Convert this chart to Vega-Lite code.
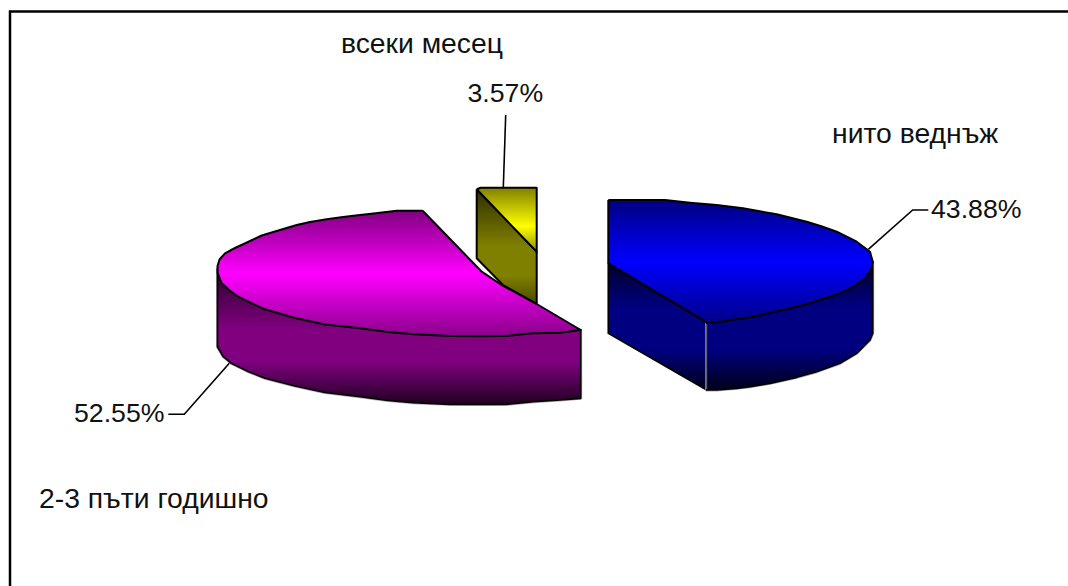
{
  "$schema": "https://vega.github.io/schema/vega-lite/v6.json",
  "width": 1068,
  "height": 586,
  "autosize": {"type": "fit", "contains": "padding"},
  "padding": 0,
  "background": "white",
  "view": {"stroke": null},
  "datasets": {
    "faces": [
      {"face":"frame","i":0,"x":10,"y":586},{"face":"frame","i":1,"x":10,"y":11.5},{"face":"frame","i":2,"x":1068,"y":11.5},

      {"face":"yellowSide","i":0,"x":476.7,"y":189.3},{"face":"yellowSide","i":1,"x":536.7,"y":251.7},{"face":"yellowSide","i":2,"x":536.7,"y":304},{"face":"yellowSide","i":3,"x":503,"y":285},{"face":"yellowSide","i":4,"x":476.7,"y":258.3},{"face":"yellowSide","i":5,"x":476.7,"y":189.3},

      {"face":"yellowTop","i":0,"x":476.7,"y":189.3},{"face":"yellowTop","i":1,"x":480.7,"y":187.7},{"face":"yellowTop","i":2,"x":536.7,"y":187.7},{"face":"yellowTop","i":3,"x":536.7,"y":251.7},{"face":"yellowTop","i":4,"x":476.7,"y":189.3},

      {"face":"magentaSide","i":0,"x":217.5,"y":268.3},{"face":"magentaSide","i":1,"x":217.5,"y":346.7},{"face":"magentaSide","i":2,"x":223.3,"y":356.7},{"face":"magentaSide","i":3,"x":231.7,"y":363.5},{"face":"magentaSide","i":4,"x":248,"y":371.5},{"face":"magentaSide","i":5,"x":265,"y":378.3},{"face":"magentaSide","i":6,"x":295,"y":386},{"face":"magentaSide","i":7,"x":325,"y":392.5},{"face":"magentaSide","i":8,"x":360,"y":396.7},{"face":"magentaSide","i":9,"x":388,"y":400.5},{"face":"magentaSide","i":10,"x":413.3,"y":402.7},{"face":"magentaSide","i":11,"x":450,"y":404.3},{"face":"magentaSide","i":12,"x":480,"y":404.5},{"face":"magentaSide","i":13,"x":506.7,"y":404.3},{"face":"magentaSide","i":14,"x":533.3,"y":401.7},{"face":"magentaSide","i":15,"x":560,"y":400},{"face":"magentaSide","i":16,"x":580.7,"y":398.3},{"face":"magentaSide","i":17,"x":580.7,"y":330},{"face":"magentaSide","i":18,"x":450,"y":336},{"face":"magentaSide","i":19,"x":265,"y":309.3},{"face":"magentaSide","i":20,"x":217.5,"y":268.3},

      {"face":"magentaTop","i":0,"x":422.7,"y":210.7},{"face":"magentaTop","i":1,"x":396.7,"y":210.7},{"face":"magentaTop","i":2,"x":378,"y":213},{"face":"magentaTop","i":3,"x":360,"y":215},{"face":"magentaTop","i":4,"x":343,"y":217},{"face":"magentaTop","i":5,"x":326.7,"y":219.3},{"face":"magentaTop","i":6,"x":310,"y":222},{"face":"magentaTop","i":7,"x":296.7,"y":225},{"face":"magentaTop","i":8,"x":280,"y":230},{"face":"magentaTop","i":9,"x":261.7,"y":235.5},{"face":"magentaTop","i":10,"x":248,"y":242},{"face":"magentaTop","i":11,"x":235,"y":248},{"face":"magentaTop","i":12,"x":225,"y":253.3},{"face":"magentaTop","i":13,"x":219.5,"y":259.5},{"face":"magentaTop","i":14,"x":217.5,"y":266},{"face":"magentaTop","i":15,"x":217.7,"y":273.3},{"face":"magentaTop","i":16,"x":221.7,"y":283.3},{"face":"magentaTop","i":17,"x":229,"y":290},{"face":"magentaTop","i":18,"x":238.3,"y":296.7},{"face":"magentaTop","i":19,"x":251,"y":303},{"face":"magentaTop","i":20,"x":265,"y":309.3},{"face":"magentaTop","i":21,"x":295,"y":318},{"face":"magentaTop","i":22,"x":325,"y":324.5},{"face":"magentaTop","i":23,"x":360,"y":328.3},{"face":"magentaTop","i":24,"x":388,"y":332},{"face":"magentaTop","i":25,"x":413.3,"y":334.3},{"face":"magentaTop","i":26,"x":450,"y":336},{"face":"magentaTop","i":27,"x":480,"y":336.2},{"face":"magentaTop","i":28,"x":506.7,"y":336},{"face":"magentaTop","i":29,"x":533.3,"y":333.3},{"face":"magentaTop","i":30,"x":560,"y":332.7},{"face":"magentaTop","i":31,"x":580.7,"y":330},{"face":"magentaTop","i":32,"x":536.7,"y":304},{"face":"magentaTop","i":33,"x":501.7,"y":285},{"face":"magentaTop","i":34,"x":481.7,"y":271.7},{"face":"magentaTop","i":35,"x":422.7,"y":210.7},

      {"face":"blueWall","i":0,"x":608.3,"y":263.3},{"face":"blueWall","i":1,"x":706.7,"y":322.3},{"face":"blueWall","i":2,"x":706.7,"y":390},{"face":"blueWall","i":3,"x":608.3,"y":333.3},{"face":"blueWall","i":4,"x":608.3,"y":263.3},

      {"face":"blueRim","i":0,"x":706.7,"y":322.3},{"face":"blueRim","i":1,"x":770,"y":313},{"face":"blueRim","i":2,"x":830,"y":296.7},{"face":"blueRim","i":3,"x":872.7,"y":261.7},{"face":"blueRim","i":4,"x":872.7,"y":333.3},{"face":"blueRim","i":5,"x":870,"y":340},{"face":"blueRim","i":6,"x":856.7,"y":353.3},{"face":"blueRim","i":7,"x":840,"y":363.3},{"face":"blueRim","i":8,"x":816.7,"y":371.7},{"face":"blueRim","i":9,"x":796.7,"y":377.3},{"face":"blueRim","i":10,"x":770,"y":383.3},{"face":"blueRim","i":11,"x":750,"y":386.7},{"face":"blueRim","i":12,"x":736.7,"y":388.3},{"face":"blueRim","i":13,"x":716.7,"y":390},{"face":"blueRim","i":14,"x":706.7,"y":390},{"face":"blueRim","i":15,"x":706.7,"y":322.3},

      {"face":"blueEdge","i":0,"x":706.7,"y":324},{"face":"blueEdge","i":1,"x":706.7,"y":389},

      {"face":"blueTop","i":0,"x":608.3,"y":200},{"face":"blueTop","i":1,"x":665,"y":200},{"face":"blueTop","i":2,"x":690,"y":202.7},{"face":"blueTop","i":3,"x":716.7,"y":205},{"face":"blueTop","i":4,"x":743,"y":208.3},{"face":"blueTop","i":5,"x":776.7,"y":214.3},{"face":"blueTop","i":6,"x":806.7,"y":221.7},{"face":"blueTop","i":7,"x":822,"y":226.5},{"face":"blueTop","i":8,"x":836.7,"y":231.7},{"face":"blueTop","i":9,"x":856.7,"y":241.7},{"face":"blueTop","i":10,"x":870,"y":251.7},{"face":"blueTop","i":11,"x":872.7,"y":261.7},{"face":"blueTop","i":12,"x":871.5,"y":268.3},{"face":"blueTop","i":13,"x":865,"y":278.3},{"face":"blueTop","i":14,"x":853.3,"y":286.7},{"face":"blueTop","i":15,"x":840,"y":293.3},{"face":"blueTop","i":16,"x":820,"y":300},{"face":"blueTop","i":17,"x":803.3,"y":305},{"face":"blueTop","i":18,"x":786.7,"y":309.3},{"face":"blueTop","i":19,"x":770,"y":313},{"face":"blueTop","i":20,"x":753.3,"y":316.7},{"face":"blueTop","i":21,"x":736.7,"y":319.3},{"face":"blueTop","i":22,"x":716.7,"y":322.3},{"face":"blueTop","i":23,"x":706.7,"y":322.3},{"face":"blueTop","i":24,"x":608.3,"y":263.3},{"face":"blueTop","i":25,"x":608.3,"y":200},

      {"face":"leader4388","i":0,"x":868.3,"y":249.3},{"face":"leader4388","i":1,"x":912.7,"y":210},{"face":"leader4388","i":2,"x":928.3,"y":210},
      {"face":"leader5255","i":0,"x":229.3,"y":363.3},{"face":"leader5255","i":1,"x":184.3,"y":414.3},{"face":"leader5255","i":2,"x":168.3,"y":414.3},
      {"face":"leader357","i":0,"x":505.7,"y":115},{"face":"leader357","i":1,"x":503.3,"y":187.7}
    ],
    "labels": [
      {"label":"всеки месец","kind":"name","x":341,"y":53.3},
      {"label":"3.57%","kind":"share","x":467.5,"y":102},
      {"label":"нито веднъж","kind":"name","x":832,"y":143.3},
      {"label":"43.88%","kind":"share","x":931,"y":218.3},
      {"label":"52.55%","kind":"share","x":74,"y":421.7},
      {"label":"2-3 пъти годишно","kind":"name","x":39,"y":508}
    ]
  },
  "encoding": {
    "x": {"field":"x","type":"quantitative","scale":{"domain":[0,1068],"nice":false,"zero":false},"axis":null},
    "y": {"field":"y","type":"quantitative","scale":{"domain":[586,0],"nice":false,"zero":false},"axis":null}
  },
  "layer": [
    {"data":{"name":"faces"},"transform":[{"filter":"datum.face==='frame'"}],
     "mark":{"type":"line","stroke":"black","strokeWidth":2.5,"strokeCap":"square","clip":true},
     "encoding":{"order":{"field":"i","type":"quantitative"}}},

    {"data":{"name":"faces"},"transform":[{"filter":"datum.face==='yellowSide'"}],
     "mark":{"type":"line","stroke":"black","strokeWidth":2,"strokeJoin":"round",
       "fill":{"gradient":"linear","x1":0,"y1":0,"x2":0,"y2":1,"stops":[{"offset":0,"color":"#2e2e00"},{"offset":0.5,"color":"#808000"},{"offset":0.75,"color":"#808000"},{"offset":1,"color":"#4a4a00"}]}},
     "encoding":{"order":{"field":"i","type":"quantitative"}}},
    {"data":{"name":"faces"},"transform":[{"filter":"datum.face==='yellowTop'"}],
     "mark":{"type":"line","stroke":"black","strokeWidth":2,"strokeJoin":"round",
       "fill":{"gradient":"linear","x1":0,"y1":0,"x2":0,"y2":1,"stops":[{"offset":0,"color":"#808000"},{"offset":0.6,"color":"#ffff00"},{"offset":1,"color":"#909000"}]}},
     "encoding":{"order":{"field":"i","type":"quantitative"}}},

    {"data":{"name":"faces"},"transform":[{"filter":"datum.face==='magentaSide'"}],
     "mark":{"type":"line","stroke":"#b4a8b4","strokeWidth":3,"strokeJoin":"round"},
     "encoding":{"order":{"field":"i","type":"quantitative"}}},
    {"data":{"name":"faces"},"transform":[{"filter":"datum.face==='magentaSide'"}],
     "mark":{"type":"line","stroke":"black","strokeWidth":1.7,"strokeJoin":"round",
       "fill":{"gradient":"linear","x1":0,"y1":0,"x2":0,"y2":1,"stops":[{"offset":0,"color":"#2a002a"},{"offset":0.45,"color":"#800080"},{"offset":0.68,"color":"#800080"},{"offset":1,"color":"#200020"}]}},
     "encoding":{"order":{"field":"i","type":"quantitative"}}},
    {"data":{"name":"faces"},"transform":[{"filter":"datum.face==='magentaTop'"}],
     "mark":{"type":"line","stroke":"black","strokeWidth":2,"strokeJoin":"round",
       "fill":{"gradient":"linear","x1":0,"y1":0,"x2":0,"y2":1,"stops":[{"offset":0,"color":"#800080"},{"offset":0.5,"color":"#ff00ff"},{"offset":1,"color":"#8a008a"}]}},
     "encoding":{"order":{"field":"i","type":"quantitative"}}},

    {"data":{"name":"faces"},"transform":[{"filter":"datum.face==='blueWall'"}],
     "mark":{"type":"line","stroke":"black","strokeWidth":1.7,"strokeJoin":"round",
       "fill":{"gradient":"linear","x1":0,"y1":0,"x2":0,"y2":1,"stops":[{"offset":0,"color":"#00002a"},{"offset":0.35,"color":"#000080"},{"offset":0.68,"color":"#000080"},{"offset":1,"color":"#00001a"}]}},
     "encoding":{"order":{"field":"i","type":"quantitative"}}},
    {"data":{"name":"faces"},"transform":[{"filter":"datum.face==='blueRim'"}],
     "mark":{"type":"line","stroke":"#a8a8b8","strokeWidth":3,"strokeJoin":"round"},
     "encoding":{"order":{"field":"i","type":"quantitative"}}},
    {"data":{"name":"faces"},"transform":[{"filter":"datum.face==='blueRim'"}],
     "mark":{"type":"line","stroke":"black","strokeWidth":1.7,"strokeJoin":"round",
       "fill":{"gradient":"linear","x1":0,"y1":0,"x2":0,"y2":1,"stops":[{"offset":0,"color":"#00002a"},{"offset":0.35,"color":"#000080"},{"offset":0.68,"color":"#000080"},{"offset":1,"color":"#00001a"}]}},
     "encoding":{"order":{"field":"i","type":"quantitative"}}},
    {"data":{"name":"faces"},"transform":[{"filter":"datum.face==='blueEdge'"}],
     "mark":{"type":"line","stroke":"#70708c","strokeWidth":1},
     "encoding":{"order":{"field":"i","type":"quantitative"}}},
    {"data":{"name":"faces"},"transform":[{"filter":"datum.face==='blueTop'"}],
     "mark":{"type":"line","stroke":"black","strokeWidth":2,"strokeJoin":"round",
       "fill":{"gradient":"linear","x1":0,"y1":0,"x2":0,"y2":1,"stops":[{"offset":0,"color":"#000080"},{"offset":0.5,"color":"#0000ff"},{"offset":1,"color":"#00008a"}]}},
     "encoding":{"order":{"field":"i","type":"quantitative"}}},

    {"data":{"name":"faces"},"transform":[{"filter":"datum.face==='leader4388'"}],
     "mark":{"type":"line","stroke":"black","strokeWidth":1.6},
     "encoding":{"order":{"field":"i","type":"quantitative"}}},
    {"data":{"name":"faces"},"transform":[{"filter":"datum.face==='leader5255'"}],
     "mark":{"type":"line","stroke":"black","strokeWidth":1.6},
     "encoding":{"order":{"field":"i","type":"quantitative"}}},
    {"data":{"name":"faces"},"transform":[{"filter":"datum.face==='leader357'"}],
     "mark":{"type":"line","stroke":"black","strokeWidth":1.6},
     "encoding":{"order":{"field":"i","type":"quantitative"}}},

    {"data":{"name":"labels"},"transform":[{"filter":"datum.kind==='share'"}],
     "mark":{"type":"text","font":"Liberation Sans","fontSize":26.7,"align":"left","baseline":"alphabetic","color":"#111111"},
     "encoding":{"text":{"field":"label","type":"nominal"}}},
    {"data":{"name":"labels"},"transform":[{"filter":"datum.kind==='name'"}],
     "mark":{"type":"text","font":"Liberation Sans","fontSize":28.3,"align":"left","baseline":"alphabetic","color":"#111111"},
     "encoding":{"text":{"field":"label","type":"nominal"}}}
  ]
}
